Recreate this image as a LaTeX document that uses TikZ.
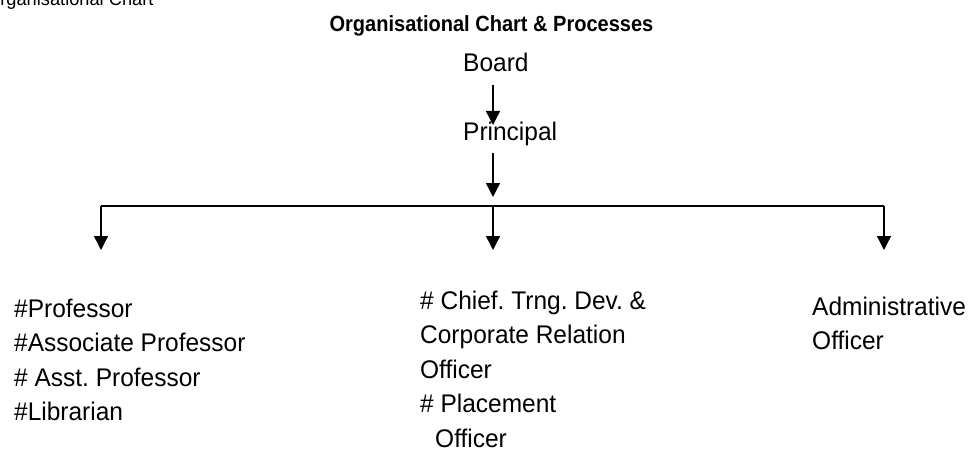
\documentclass[tikz,border=0pt]{standalone}
\usepackage{fontspec}
\setmainfont[FakeStretch=0.96]{Liberation Sans}
\newfontfamily\titlefont[FakeStretch=0.91]{Liberation Sans}
\usetikzlibrary{arrows.meta}
\frenchspacing
\newcommand\tblines[1]{\begin{tabular}[t]{@{}l@{}}#1\end{tabular}}
\tikzset{
  body/.style={anchor=base west, inner sep=0pt, font=\fontsize{25.5}{34.5}\selectfont},
  conn/.style={line width=1.4pt, -{Triangle[width=14pt,length=14pt]}},
  plain/.style={line width=1.4pt}
}
\begin{document}
\begin{tikzpicture}[x=1pt,y=-1pt]
\useasboundingbox (0,0) rectangle (970,452);
% clipped heading at top left
\node[anchor=base west, inner sep=0pt, font=\fontsize{19}{22}\selectfont] (head) at (-14,6) {Organisational Chart};
\node[anchor=base, inner sep=0pt, font=\titlefont\fontsize{22}{26}\selectfont\bfseries] (title) at (491.5,32) {Organisational Chart \& Processes};
\node[anchor=base west, inner sep=0pt, font=\fontsize{25.5}{30}\selectfont] (board) at (463,72) {Board};
\node[anchor=base west, inner sep=0pt, font=\fontsize{25.5}{30}\selectfont] (principal) at (463,140) {Principal};
% lower text blocks
\node[body] (teach) at (14,317) {\tblines{\#Professor\\\#Associate Professor\\\# Asst. Professor\\\#Librarian}};
\node[body] (train) at (420,309) {\tblines{\# Chief. Trng. Dev. \&\\Corporate Relation\\Officer\\\# Placement\\\hspace*{15pt}Officer}};
\node[body] (admin) at (812,315) {\tblines{Administrative\\Officer}};
% connector points
\coordinate (b1) at (493,85);
\coordinate (b2) at (493,125);
\coordinate (p1) at (493,153);
\coordinate (p2) at (493,197);
\coordinate (hl) at (101,206);
\coordinate (hm) at (493,206);
\coordinate (hr) at (884,206);
\coordinate (tl) at (101,250);
\coordinate (tm) at (493,250);
\coordinate (tr) at (884,250);
\draw[conn] (b1) -- (b2);
\draw[conn] (p1) -- (p2);
\draw[plain] (hl) -- (hr);
\draw[conn] (hl) -- (tl);
\draw[conn] (hm) -- (tm);
\draw[conn] (hr) -- (tr);
\end{tikzpicture}
\end{document}
